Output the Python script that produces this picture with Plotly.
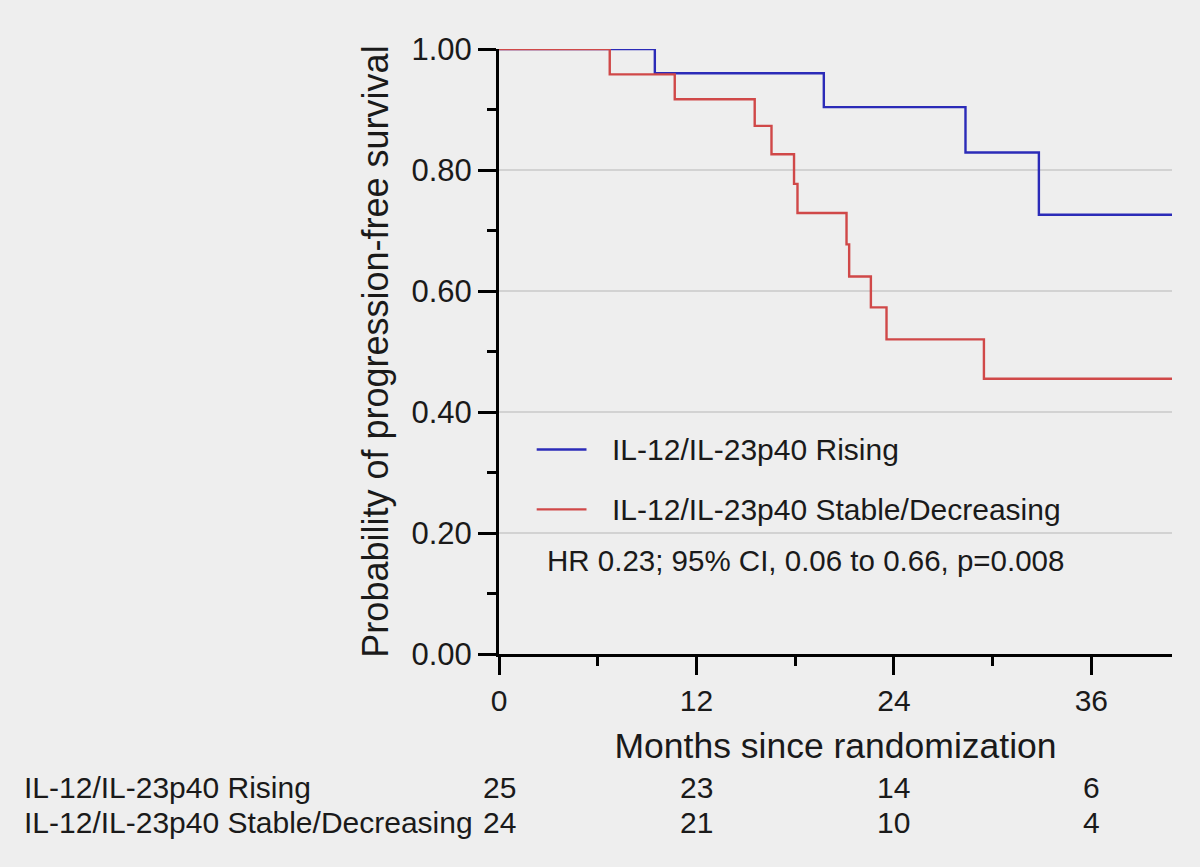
import plotly.graph_objects as go

# ---- data ----
series_names = ["IL-12/IL-23p40 Rising", "IL-12/IL-23p40 Stable/Decreasing"]
rising_times = [9.47, 19.74, 28.35, 32.81]
rising_surv = [0.960, 0.904, 0.829, 0.726]
stable_times = [6.73, 10.68, 15.54, 16.56, 17.93, 18.14, 21.12, 21.28, 22.60, 23.55, 29.47]
stable_surv = [0.958, 0.917, 0.873, 0.826, 0.777, 0.729, 0.677, 0.624, 0.573, 0.520, 0.455]
follow_up_end = 40.9

x_ticks = [0, 12, 24, 36]
y_ticks = [0.0, 0.2, 0.4, 0.6, 0.8, 1.0]
at_risk_times = [0, 12, 24, 36]
at_risk_rising = [25, 23, 14, 6]
at_risk_stable = [24, 21, 10, 4]
hr_text = "HR 0.23; 95% CI, 0.06 to 0.66, p=0.008"

FONT = "Liberation Sans, Arial, sans-serif"
BG = "#eeeeee"
BLUE = "#2b2bb8"
RED = "#d04848"
TXT = "#1a1a1a"
colors = [BLUE, RED]


def step_xy(times, surv, end):
    return [0] + list(times) + [end], [1.0] + list(surv) + [surv[-1]]


fig = go.Figure()
for name, t, s, col in [
    (series_names[0], rising_times, rising_surv, colors[0]),
    (series_names[1], stable_times, stable_surv, colors[1]),
]:
    xs, ys = step_xy(t, s, follow_up_end)
    fig.add_trace(go.Scatter(
        x=xs, y=ys, mode="lines", name=name, showlegend=False,
        line=dict(color=col, width=2.4, shape="hv"), cliponaxis=False,
    ))

# legend (drawn in paper coordinates)
legend_y = [0.338, 0.239]
for name, col, ly in zip(series_names, colors, legend_y):
    fig.add_shape(type="line", xref="paper", yref="paper", x0=0.056, x1=0.130,
                  y0=ly, y1=ly, line=dict(color=col, width=2.4))
    fig.add_annotation(x=0.1645, y=ly, xref="paper", yref="paper", text=name,
                       showarrow=False, xanchor="left", yanchor="middle",
                       font=dict(family=FONT, size=30, color=TXT))

# at-risk table
row_y = [-0.221, -0.278]
for label, counts, yy in [(series_names[0], at_risk_rising, row_y[0]),
                          (series_names[1], at_risk_stable, row_y[1])]:
    fig.add_annotation(x=-0.7085, y=yy, xref="paper", yref="paper", text=label,
                       showarrow=False, xanchor="left", yanchor="middle",
                       font=dict(family=FONT, size=30, color=TXT))
    for t, c in zip(at_risk_times, counts):
        fig.add_annotation(x=t, y=yy, xref="x", yref="paper", text=str(c),
                           showarrow=False, xanchor="center", yanchor="middle",
                           font=dict(family=FONT, size=30, color=TXT))

fig.add_annotation(x=0.069, y=0.155, xref="paper", yref="paper", text=hr_text,
                   showarrow=False, xanchor="left", yanchor="middle",
                   font=dict(family=FONT, size=29.5, color=TXT))

fig.update_layout(
    width=1200, height=867,
    paper_bgcolor=BG, plot_bgcolor=BG,
    margin=dict(l=499, r=28, t=49, b=213, autoexpand=False),
    font=dict(family=FONT, color=TXT),
    showlegend=False,
)

fig.update_xaxes(
    range=[0, follow_up_end], tickvals=x_ticks, ticktext=[str(v) for v in x_ticks],
    showline=True, linecolor="black", linewidth=3,
    ticks="outside", ticklen=18, tickwidth=3, tickcolor="black",
    minor=dict(dtick=6, ticks="outside", ticklen=9, tickwidth=3, tickcolor="black", showgrid=False),
    showgrid=False, zeroline=False,
    tickfont=dict(family=FONT, size=30, color=TXT),
    title=dict(text="Months since randomization", font=dict(family=FONT, size=35.5, color=TXT), standoff=18),
    automargin=False,
)
fig.update_yaxes(
    range=[0, 1], tickvals=y_ticks, ticktext=[f"{v:.2f}" for v in y_ticks],
    showline=True, linecolor="black", linewidth=3,
    ticks="outside", ticklen=18, tickwidth=3, tickcolor="black",
    minor=dict(dtick=0.1, ticks="outside", ticklen=9, tickwidth=3, tickcolor="black", showgrid=False),
    showgrid=True, gridcolor="#d2d2d2", gridwidth=1.5, zeroline=False,
    tickfont=dict(family=FONT, size=31, color=TXT),
    title=dict(text="Probability of progression-free survival", font=dict(family=FONT, size=36, color=TXT), standoff=12),
    automargin=False,
)

fig.write_html("out.html")
